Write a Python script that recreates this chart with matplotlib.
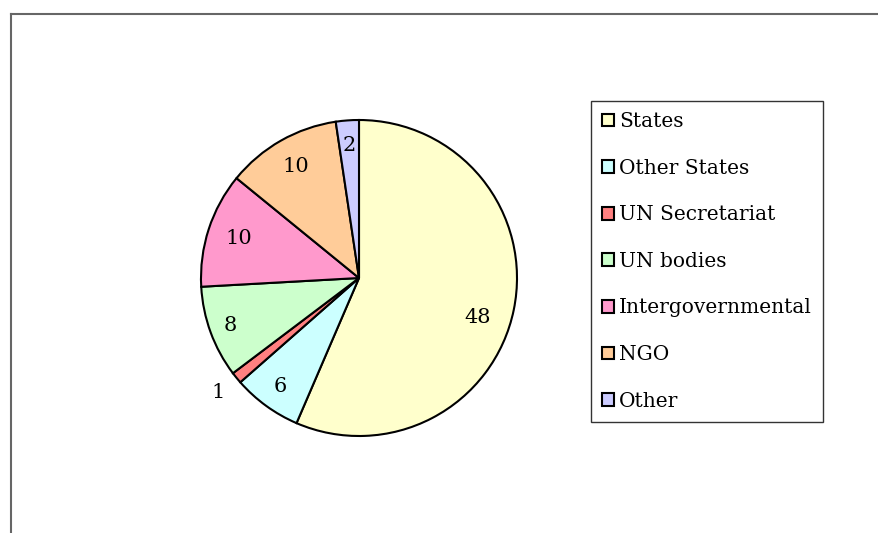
import numpy as np
import matplotlib
matplotlib.use("Agg")
import matplotlib.pyplot as plt
from matplotlib.lines import Line2D

categories = ["States", "Other States", "UN Secretariat", "UN bodies",
              "Intergovernmental", "NGO", "Other"]
values = [48, 6, 1, 8, 10, 10, 2]
colors = ["#FFFFCC", "#CCFFFF", "#FF8080", "#CCFFCC", "#FF99CC", "#FFCC99", "#CCCCFF"]
# radial position of each value label (fraction of radius)
label_dist = [0.79, 0.85, 1.15, 0.87, 0.80, 0.81, 0.84]

plt.rcParams["font.family"] = ["DejaVu Serif"]

W, H = 879, 533
fig = plt.figure(figsize=(W / 100, H / 100), dpi=100)

# pie centre (359, 278) px, radius 158 px; axes spans 3 radii
cx, cy, r = 359, 278, 158
ax = fig.add_axes([(cx - 1.5 * r) / W, (H - cy - 1.5 * r) / H, 3 * r / W, 3 * r / H])
wedges, _ = ax.pie(values, colors=colors, startangle=90, counterclock=False,
                   wedgeprops=dict(edgecolor="black", linewidth=1.5))
ax.set_xlim(-1.5, 1.5)
ax.set_ylim(-1.5, 1.5)
ax.set_aspect("equal")
ax.axis("off")

for w, v, d in zip(wedges, values, label_dist):
    ang = np.deg2rad((w.theta1 + w.theta2) / 2)
    if v == 48:
        ang -= np.deg2rad(7)
    ax.text(d * np.cos(ang), d * np.sin(ang), str(v), ha="center", va="center",
            fontsize=15, color="black")

leg = ax.legend(wedges, categories, loc="upper left",
                bbox_to_anchor=(591 / W, 1 - 101 / H), bbox_transform=fig.transFigure,
                borderaxespad=0, fontsize=14.5, frameon=True, fancybox=False,
                edgecolor="black", handlelength=0.6, handleheight=0.6,
                handletextpad=0.25, labelspacing=1.37, borderpad=0.55)
leg.get_frame().set_linewidth(1.0)
for h in leg.legend_handles:
    h.set_linewidth(1.5)

# outer chart frame (top and left edges visible)
fig.add_artist(Line2D([11 / W, 1], [1 - 14 / H, 1 - 14 / H], color="#666666",
                      linewidth=1.5, transform=fig.transFigure))
fig.add_artist(Line2D([11 / W, 11 / W], [0, 1 - 14 / H], color="#666666",
                      linewidth=1.5, transform=fig.transFigure))

fig.savefig("out.png", dpi=100)
